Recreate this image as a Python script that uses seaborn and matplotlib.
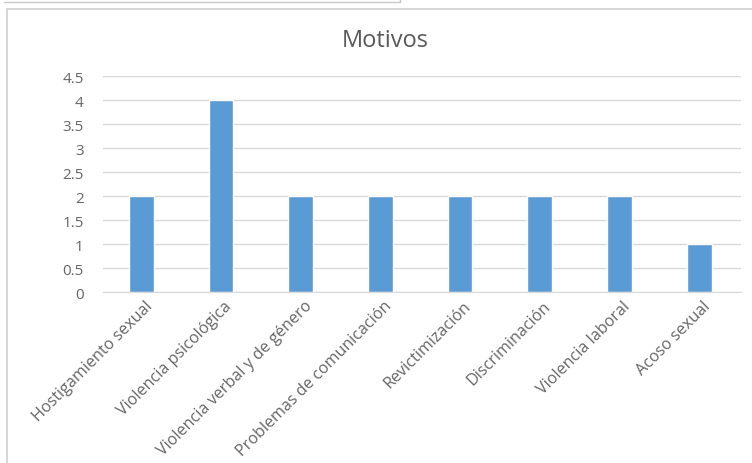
import matplotlib
matplotlib.use("Agg")
import matplotlib.pyplot as plt
import matplotlib.transforms as mtransforms
import seaborn as sns
import pandas as pd
from matplotlib.patches import Rectangle
from matplotlib.lines import Line2D

# Chart data
motivos = ['Hostigamiento sexual', 'Violencia psicológica', 'Violencia verbal y de género',
           'Problemas de comunicación', 'Revictimización', 'Discriminación',
           'Violencia laboral', 'Acoso sexual']
casos = [2, 4, 2, 2, 2, 2, 2, 1]
yticks = [0, 0.5, 1, 1.5, 2, 2.5, 3, 3.5, 4, 4.5]
ytick_labels = ['0', '0.5', '1', '1.5', '2', '2.5', '3', '3.5', '4', '4.5']

df = pd.DataFrame({'Motivo': motivos, 'Casos': casos})

sns.set_style('white')
plt.rcParams['font.family'] = ['Open Sans', 'DejaVu Sans']

fig = plt.figure(figsize=(7.52, 4.64), dpi=100)
ax = fig.add_axes([0.137, 0.3685, 0.848, 0.4655])

sns.barplot(data=df, x='Motivo', y='Casos', color='#5B9BD5', saturation=1,
            width=0.31, ax=ax)

ax.set_ylim(0, 4.5)
ax.set_xlim(-0.48, 7.52)
ax.set_yticks(yticks)
ax.set_yticklabels(ytick_labels)
ax.yaxis.grid(True, color='#D9D9D9', linewidth=1)
ax.set_axisbelow(True)
for s in ['top', 'right', 'left']:
    ax.spines[s].set_visible(False)
ax.spines['bottom'].set_color('#D9D9D9')
ax.tick_params(axis='both', length=0, colors='#666666', labelsize=11)
ax.tick_params(axis='x', labelsize=11.6, pad=4)
ax.tick_params(axis='y', pad=14)
ax.set_xlabel('')
ax.set_ylabel('')
shift = mtransforms.ScaledTranslation(3 / 100, 0, fig.dpi_scale_trans)
for lbl in ax.get_xticklabels():
    lbl.set_rotation(45)
    lbl.set_ha('right')
    lbl.set_rotation_mode('anchor')
    lbl.set_transform(lbl.get_transform() + shift)

# title centred on the chart frame, like Excel does
fig.text(385 / 752, 1 - 41 / 464, 'Motivos', fontsize=17, color='#595959',
         ha='center', va='center')

# chart frame and screenshot artifacts
fig.patches.append(Rectangle((7 / 752, -0.01), 1.0, 1 - 10 / 464 + 0.01,
                             transform=fig.transFigure, fill=False,
                             edgecolor='#D0D0D0', linewidth=1.2))
fig.lines.append(Line2D([4 / 752, 400 / 752], [1 - 3 / 464, 1 - 3 / 464],
                        transform=fig.transFigure, color='#C8C8C8', linewidth=1))
fig.lines.append(Line2D([400 / 752, 400 / 752], [1 - 3 / 464, 1.0],
                        transform=fig.transFigure, color='#C8C8C8', linewidth=1))

fig.savefig('out.png', dpi=100)
